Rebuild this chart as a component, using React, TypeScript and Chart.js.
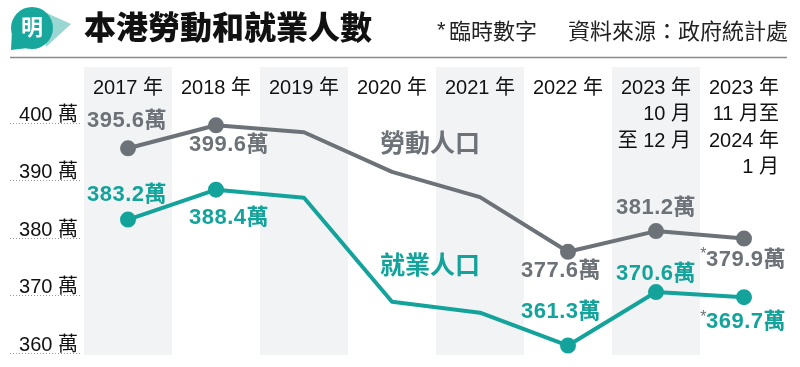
import React, { useEffect, useRef } from "react";
import { Chart, registerables } from "chart.js";

Chart.register(...registerables);

// ---------- data ----------
const categories: string[][] = [
  ["2017 年"],
  ["2018 年"],
  ["2019 年"],
  ["2020 年"],
  ["2021 年"],
  ["2022 年"],
  ["2023 年", "10 月", "至 12 月"],
  ["2023 年", "11 月至", "2024 年", "1 月"],
];
const labourForce = [395.6, 399.6, 398.4, 391.5, 387.1, 377.6, 381.2, 379.9];
const employed = [383.2, 388.4, 387.0, 368.9, 367.0, 361.3, 370.6, 369.7];
const labourLabels = ["395.6萬", "399.6萬", "", "", "", "377.6萬", "381.2萬", "379.9萬"];
const employedLabels = ["383.2萬", "388.4萬", "", "", "", "361.3萬", "370.6萬", "369.7萬"];
const provisional = [false, false, false, false, false, false, false, true];
const yTicks = [360, 370, 380, 390, 400];
const yTickLabels = ["360 萬", "370 萬", "380 萬", "390 萬", "400 萬"];
const seriesNames = ["勞動人口", "就業人口"];
const titleText = "本港勞動和就業人數";
const noteStar = "*";
const noteText = "臨時數字";
const sourceText = "資料來源：政府統計處";
const logoText = "明";

// ---------- layout / style (not data) ----------
const FONT = "'Liberation Sans', 'Noto Sans CJK TC', 'Noto Sans CJK SC', sans-serif";
const GRAY = "#6c7278";
const TEAL = "#13a39b";
const SHADE = "#f2f3f5";
const markerShown = [true, true, false, false, false, true, true, true];
const labourOffsets: [number, number][] = [
  [-1, -27], [13, 20], [0, 0], [0, 0], [0, 0], [-7, 19], [0, -23], [2, 21],
];
const employedOffsets: [number, number][] = [
  [-1, -25], [13, 28], [0, 0], [0, 0], [0, 0], [-7, -34], [0, -18], [2, 25],
];

function drawValueLabel(
  ctx: CanvasRenderingContext2D,
  text: string,
  cx: number,
  cy: number,
  color: string,
  star: boolean
) {
  ctx.font = `bold 22px ${FONT}`;
  ctx.fillStyle = color;
  ctx.textAlign = "center";
  ctx.textBaseline = "middle";
  (ctx as any).letterSpacing = "0.5px";
  ctx.fillText(text, cx, cy);
  (ctx as any).letterSpacing = "0px";
  if (star) {
    const w = ctx.measureText(text).width;
    ctx.font = `16px ${FONT}`;
    ctx.fillStyle = GRAY;
    ctx.textAlign = "right";
    ctx.fillText("*", cx - w / 2 - 1, cy - 5);
  }
}

const decorPlugin = {
  id: "decor",
  beforeDatasetsDraw(chart: any) {
    const { ctx, chartArea, scales } = chart;
    const x = scales.x;
    const y = scales.y;
    ctx.save();
    const half = (x.getPixelForValue(1) - x.getPixelForValue(0)) / 2;
    ctx.fillStyle = SHADE;
    categories.forEach((_, i) => {
      if (i % 2 === 0) {
        const cx = x.getPixelForValue(i);
        ctx.fillRect(cx - half, chartArea.top, half * 2, chartArea.bottom - chartArea.top);
      }
    });
    // y gridlines (short dotted) and labels
    ctx.strokeStyle = "#9a9a9a";
    ctx.lineWidth = 1;
    ctx.setLineDash([1, 2]);
    yTicks.forEach((v, i) => {
      const py = Math.round(y.getPixelForValue(v)) + 0.5;
      ctx.beginPath();
      ctx.moveTo(10, py);
      ctx.lineTo(82, py);
      ctx.stroke();
      ctx.font = `20px ${FONT}`;
      ctx.fillStyle = "#111";
      ctx.textAlign = "right";
      ctx.textBaseline = "alphabetic";
      ctx.fillText(yTickLabels[i], 78, py - 3);
    });
    ctx.setLineDash([]);
    // x category labels
    ctx.font = `20px ${FONT}`;
    ctx.fillStyle = "#111";
    ctx.textAlign = "right";
    ctx.textBaseline = "middle";
    categories.forEach((lines, i) => {
      const cx = x.getPixelForValue(i);
      lines.forEach((ln, j) => {
        ctx.fillText(ln, cx + 35, 88 + j * 26.5);
      });
    });
    ctx.restore();
  },
  afterDraw(chart: any) {
    const { ctx, scales } = chart;
    const x = scales.x;
    const y = scales.y;
    ctx.save();
    // value labels
    labourForce.forEach((v, i) => {
      if (!labourLabels[i]) return;
      const px = x.getPixelForValue(i);
      const py = y.getPixelForValue(v);
      drawValueLabel(ctx, labourLabels[i], px + labourOffsets[i][0], py + labourOffsets[i][1], GRAY, provisional[i]);
    });
    employed.forEach((v, i) => {
      if (!employedLabels[i]) return;
      const px = x.getPixelForValue(i);
      const py = y.getPixelForValue(v);
      drawValueLabel(ctx, employedLabels[i], px + employedOffsets[i][0], py + employedOffsets[i][1], TEAL, provisional[i]);
    });
    // series names
    ctx.font = `bold 25px ${FONT}`;
    ctx.textAlign = "center";
    ctx.textBaseline = "middle";
    const sx = x.getPixelForValue(3.5) - 6;
    ctx.fillStyle = GRAY;
    ctx.fillText(seriesNames[0], sx, y.getPixelForValue(396.2));
    ctx.fillStyle = TEAL;
    ctx.fillText(seriesNames[1], sx, y.getPixelForValue(375.0));

    // header: logo
    ctx.fillStyle = "#9ad7d2";
    ctx.beginPath();
    ctx.moveTo(40, 10);
    ctx.lineTo(71, 24);
    ctx.lineTo(46, 47);
    ctx.closePath();
    ctx.fill();
    ctx.fillStyle = "#18a79d";
    ctx.beginPath();
    ctx.arc(32, 28, 21, 0, Math.PI * 2);
    ctx.fill();
    ctx.beginPath();
    ctx.moveTo(12, 30);
    ctx.lineTo(11, 50);
    ctx.lineTo(28, 48);
    ctx.closePath();
    ctx.fill();
    ctx.fillStyle = "#ffffff";
    ctx.font = `bold 22px ${FONT}`;
    ctx.textAlign = "center";
    ctx.textBaseline = "middle";
    ctx.fillText(logoText, 32, 29);
    // title
    ctx.fillStyle = "#111";
    ctx.font = `900 32px ${FONT}`;
    ctx.textAlign = "left";
    ctx.fillText(titleText, 84, 30);
    // note
    ctx.font = `22px ${FONT}`;
    ctx.fillStyle = "#222";
    ctx.fillText(noteStar, 437, 31);
    ctx.fillText(noteText, 449, 33);
    ctx.textAlign = "right";
    ctx.fillText(sourceText, 788, 33);
    // header rule
    ctx.strokeStyle = "#8a8a8a";
    ctx.lineWidth = 1.5;
    ctx.beginPath();
    ctx.moveTo(10, 57.5);
    ctx.lineTo(787, 57.5);
    ctx.stroke();
    ctx.restore();
  },
};

export default function App() {
  const ref = useRef<HTMLCanvasElement | null>(null);
  useEffect(() => {
    if (!ref.current) return;
    const radii = markerShown.map((m) => (m ? 6 : 0));
    const chart = new Chart(ref.current, {
      type: "line",
      data: {
        labels: categories.map((c) => c.join(" ")),
        datasets: [
          {
            label: seriesNames[0],
            data: labourForce,
            borderColor: GRAY,
            backgroundColor: GRAY,
            pointBackgroundColor: GRAY,
            pointBorderColor: GRAY,
            borderWidth: 4,
            pointRadius: radii,
            borderJoinStyle: "round",
            tension: 0,
            clip: false as any,
          },
          {
            label: seriesNames[1],
            data: employed,
            borderColor: TEAL,
            backgroundColor: TEAL,
            pointBackgroundColor: TEAL,
            pointBorderColor: TEAL,
            borderWidth: 4,
            pointRadius: radii,
            borderJoinStyle: "round",
            tension: 0,
            clip: false as any,
          },
        ],
      },
      options: {
        responsive: false,
        animation: false,
        layout: { padding: { left: 84, right: 12, top: 67, bottom: 12 } },
        plugins: { legend: { display: false }, tooltip: { enabled: false } },
        scales: {
          x: { type: "category", offset: true, display: false },
          y: { type: "linear", min: 359.65, max: 409.74, display: false },
        },
      },
      plugins: [decorPlugin],
    });
    return () => chart.destroy();
  }, []);
  return (
    <div style={{ position: "absolute", left: 0, top: 0, width: 800, height: 367, background: "#fff" }}>
      <canvas ref={ref} width={800} height={367} style={{ display: "block" }} />
    </div>
  );
}
